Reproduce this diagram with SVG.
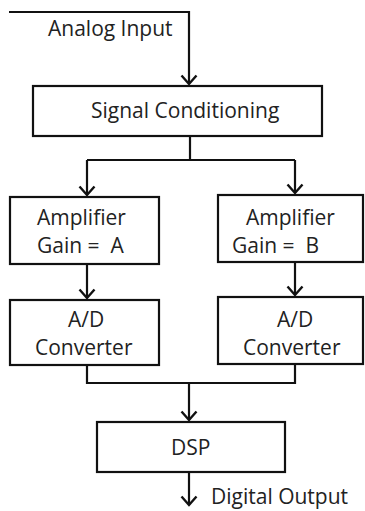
<svg xmlns="http://www.w3.org/2000/svg" width="365" height="511" viewBox="0 0 365 511">
<defs>
<marker id="arr" markerUnits="userSpaceOnUse" markerWidth="20" markerHeight="20" refX="10" refY="10" orient="auto" viewBox="0 0 20 20">
<path d="M1.5,2.5 L10,10 L1.5,17.5" fill="none" stroke="#111" stroke-width="2.4"/>
</marker>
<style>
.box{fill:#fff;stroke:#111;stroke-width:2.2}
.ln{fill:none;stroke:#111;stroke-width:2.2}
text{font-family:"Open Sans","Liberation Sans",sans-serif;font-size:21px;fill:#222}
</style>
</defs>
<rect width="365" height="511" fill="#fff"/>
<g id="connectors">
<polyline class="ln" points="9,12 189,12 189,84" marker-end="url(#arr)"/>
<polyline class="ln" points="190,136 190,160"/>
<polyline class="ln" points="87,160 295,160"/>
<polyline class="ln" points="87,160 87,195" marker-end="url(#arr)"/>
<polyline class="ln" points="295,160 295,193" marker-end="url(#arr)"/>
<polyline class="ln" points="87,264 87,298" marker-end="url(#arr)"/>
<polyline class="ln" points="295,262 295,295" marker-end="url(#arr)"/>
<polyline class="ln" points="87,365 87,383 295,383 295,364"/>
<polyline class="ln" points="189,383 189,420" marker-end="url(#arr)"/>
<polyline class="ln" points="189,472 189,505" marker-end="url(#arr)"/>
</g>
<g id="analog-input"><text x="48" y="36">Analog Input</text></g>
<g id="signal-conditioning">
<rect class="box" x="33" y="86" width="289" height="50"/>
<text x="91" y="118">Signal Conditioning</text>
</g>
<g id="amp-a">
<rect class="box" x="10" y="197" width="149" height="67"/>
<text x="37" y="225">Amplifier</text>
<text x="37" y="253" xml:space="preserve">Gain =  A</text>
</g>
<g id="amp-b">
<rect class="box" x="218" y="195" width="145" height="67"/>
<text x="246" y="225">Amplifier</text>
<text x="232" y="253" xml:space="preserve">Gain =  B</text>
</g>
<g id="adc-a">
<rect class="box" x="10" y="300" width="149" height="65"/>
<text x="68" y="327">A/D</text>
<text x="35" y="355">Converter</text>
</g>
<g id="adc-b">
<rect class="box" x="218" y="297" width="145" height="67"/>
<text x="277" y="327">A/D</text>
<text x="243" y="355">Converter</text>
</g>
<g id="dsp">
<rect class="box" x="97" y="422" width="188" height="50"/>
<text x="171" y="455">DSP</text>
</g>
<g id="digital-output"><text x="211" y="504">Digital Output</text></g>
</svg>
